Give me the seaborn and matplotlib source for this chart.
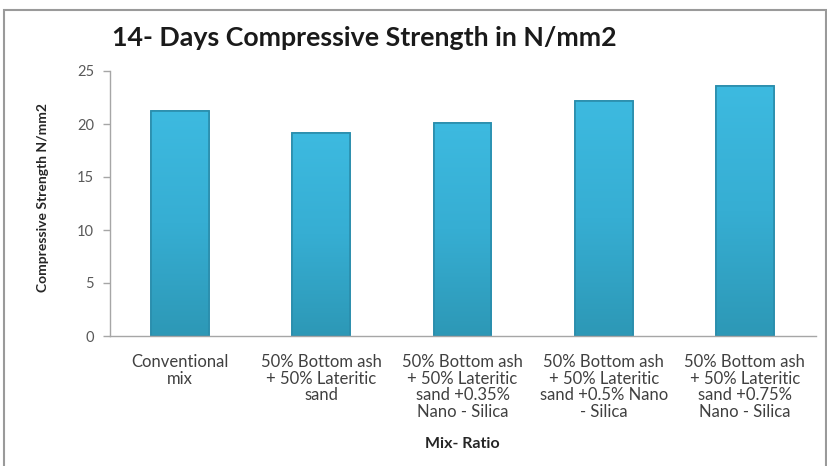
import matplotlib
matplotlib.use("Agg")
import matplotlib.pyplot as plt
import seaborn as sns
import pandas as pd
import numpy as np
from matplotlib.patches import Rectangle
from matplotlib.colors import LinearSegmentedColormap

categories = [
    "Conventional\nmix",
    "50% Bottom ash\n+ 50% Lateritic\nsand",
    "50% Bottom ash\n+ 50% Lateritic\nsand +0.35%\nNano - Silica",
    "50% Bottom ash\n+ 50% Lateritic\nsand +0.5% Nano\n- Silica",
    "50% Bottom ash\n+ 50% Lateritic\nsand +0.75%\nNano - Silica",
]
strength = [21.2, 19.15, 20.1, 22.2, 23.55]
yticks = [0, 5, 10, 15, 20, 25]

sns.set_theme(style="white")
plt.rcParams['font.family'] = ['Lato', 'DejaVu Sans']

df = pd.DataFrame({"Mix": categories, "Strength": strength})

W, H = 827, 466
fig = plt.figure(figsize=(W / 100, H / 100), dpi=100)
ax = fig.add_axes([109.5 / W, 1 - 336 / H, (815.5 - 109.5) / W, (336 - 71) / H])

sns.barplot(data=df, x="Mix", y="Strength", ax=ax, color="#3AB4DA",
            width=0.41, edgecolor="#2A8DAC", linewidth=1.2, saturation=1)

# vertical gradient inside each bar (lighter top, darker bottom)
cmap = LinearSegmentedColormap.from_list("bevel", ["#2D98B6", "#36AED3", "#3DBAE0"])
grad = np.linspace(0, 1, 256).reshape(-1, 1)
for p in list(ax.patches):
    x0, y0 = p.get_x(), p.get_y()
    w, h = p.get_width(), p.get_height()
    im = ax.imshow(grad, cmap=cmap, origin="lower", aspect="auto",
                   extent=[x0, x0 + w, y0, y0 + h], zorder=p.get_zorder() + 0.1)
    im.set_clip_path(p)
    edge = Rectangle((x0, y0), w, h, fill=False, edgecolor="#2A8DAC",
                     linewidth=1.2, zorder=p.get_zorder() + 0.2)
    ax.add_patch(edge)

ax.set_ylim(0, 25)
ax.set_yticks(yticks)
ax.set_xlim(-0.5, len(categories) - 0.5)
for s in ["top", "right"]:
    ax.spines[s].set_visible(False)
for s in ["left", "bottom"]:
    ax.spines[s].set_color("#A6A6A6")
    ax.spines[s].set_linewidth(1.0)
ax.tick_params(axis="y", which="both", left=True, length=5, width=1,
               color="#A6A6A6", labelsize=10.5, labelcolor="#595959", pad=6)
ax.tick_params(axis="x", bottom=False, labelsize=12, labelcolor="#404040", pad=7)
for lbl in ax.get_xticklabels():
    lbl.set_linespacing(1.05)

ax.set_xlabel("Mix- Ratio", fontsize=11.5, fontweight="bold", color="#262626", labelpad=12)
ax.set_ylabel("Compressive Strength N/mm2", fontsize=10, fontweight="bold",
              color="#262626", labelpad=20)
ax.yaxis.label.set_y((336 - 198) / 265)

fig.text(364 / W, 1 - 38 / H, "14- Days Compressive Strength in N/mm2",
         ha="center", va="center", fontsize=19.3, fontweight="bold", color="#1a1a1a")

fig.patches.append(Rectangle((4 / W, -0.05), (822 / W), 1 - 10 / H + 0.05,
                             transform=fig.transFigure, fill=False,
                             edgecolor="#9a9a9a", linewidth=1.5))

fig.savefig("out.png", dpi=100)
